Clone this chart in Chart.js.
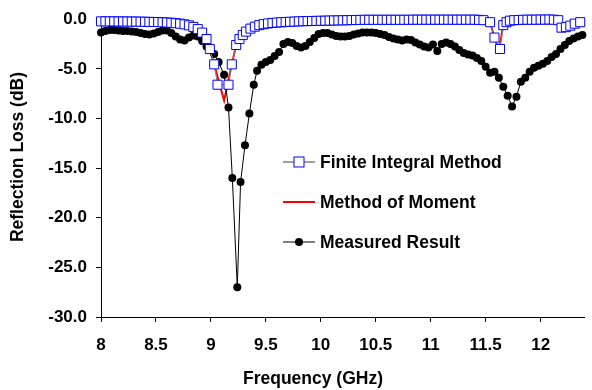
<!DOCTYPE html>
<html>
<head>
<meta charset="utf-8">
<script src="https://cdn.jsdelivr.net/npm/chart.js@4.4.1/dist/chart.umd.min.js"></script>
<style>
  html, body { margin: 0; padding: 0; background: #fff; }
  #wrap { width: 592px; height: 390px; position: relative; }
</style>
</head>
<body>
<div id="wrap"><canvas id="c" width="592" height="390"></canvas></div>
<script>
// ---- data ----
const xTicks = [8, 8.5, 9, 9.5, 10, 10.5, 11, 11.5, 12];
const yTicks = [0, -5, -10, -15, -20, -25, -30];

const fimFreq = [8.00, 8.04, 8.08, 8.12, 8.16, 8.20, 8.24, 8.28, 8.32, 8.36, 8.40, 8.44, 8.48, 8.52, 8.56, 8.60, 8.64, 8.68, 8.72, 8.76,
  8.80, 8.84, 8.88, 8.92, 8.96, 8.99, 9.03, 9.06, 9.16, 9.19, 9.23, 9.26, 9.29, 9.32, 9.36, 9.40, 9.44, 9.48, 9.52, 9.56,
  9.60, 9.64, 9.68, 9.72, 9.76, 9.80, 9.84, 9.88, 9.92, 9.96, 10.00, 10.04, 10.08, 10.12, 10.16, 10.20, 10.24, 10.28, 10.32, 10.36,
  10.40, 10.44, 10.48, 10.52, 10.56, 10.60, 10.64, 10.68, 10.72, 10.76, 10.80, 10.84, 10.88, 10.92, 10.96, 11.00, 11.04, 11.08, 11.12, 11.16,
  11.20, 11.24, 11.28, 11.32, 11.36, 11.40, 11.44, 11.48, 11.54, 11.58, 11.63, 11.66, 11.69, 11.72, 11.76, 11.80, 11.84, 11.88, 11.92, 11.96,
  12.00, 12.04, 12.08, 12.12, 12.16, 12.19, 12.23, 12.27, 12.31, 12.36];
const fimLoss = [-0.22, -0.22, -0.22, -0.22, -0.23, -0.23, -0.23, -0.24, -0.24, -0.25, -0.26, -0.27, -0.28, -0.29, -0.31, -0.33, -0.36, -0.40, -0.45, -0.52,
  -0.62, -0.78, -1.00, -1.35, -2.00, -3.00, -4.55, -6.60, -6.60, -4.55, -2.60, -2.00, -1.60, -1.25, -0.95, -0.75, -0.60, -0.50, -0.43, -0.38,
  -0.34, -0.31, -0.28, -0.26, -0.24, -0.22, -0.20, -0.19, -0.18, -0.17, -0.16, -0.15, -0.14, -0.13, -0.12, -0.11, -0.10, -0.09, -0.08, -0.07,
  -0.06, -0.06, -0.06, -0.06, -0.06, -0.06, -0.06, -0.06, -0.06, -0.06, -0.06, -0.05, -0.05, -0.05, -0.05, -0.05, -0.05, -0.05, -0.05, -0.05,
  -0.05, -0.05, -0.05, -0.05, -0.05, -0.05, -0.07, -0.10, -0.30, -1.85, -3.00, -0.60, -0.30, -0.15, -0.10, -0.08, -0.06, -0.05, -0.05, -0.05,
  -0.04, -0.04, -0.03, -0.05, -0.10, -0.85, -0.80, -0.65, -0.45, -0.30];

const momFreq = [8.00, 8.40, 8.60, 8.76, 8.84, 8.92, 8.96, 8.99, 9.03, 9.12, 9.19, 9.23, 9.29, 9.36, 9.48, 9.64, 9.80, 10.00, 10.40, 11.40,
  11.50, 11.54, 11.58, 11.62, 11.66, 11.72, 12.12, 12.16, 12.19, 12.27, 12.36];
const momLoss = [-0.22, -0.26, -0.33, -0.52, -0.78, -1.35, -2.00, -3.00, -4.55, -8.20, -4.55, -2.60, -1.60, -0.95, -0.50, -0.31, -0.22, -0.16, -0.06, -0.05,
  -0.12, -0.30, -1.85, -3.20, -0.60, -0.15, -0.05, -0.10, -0.85, -0.65, -0.30];

const measFreq = [8.00, 8.04, 8.08, 8.12, 8.16, 8.20, 8.24, 8.28, 8.32, 8.36, 8.40, 8.44, 8.48, 8.52, 8.56, 8.60, 8.64, 8.68, 8.72, 8.76,
  8.80, 8.84, 8.88, 8.92, 8.96, 8.99, 9.03, 9.07, 9.12, 9.16, 9.195, 9.24, 9.27, 9.31, 9.35, 9.39, 9.42, 9.46, 9.50, 9.54,
  9.58, 9.62, 9.66, 9.70, 9.74, 9.78, 9.82, 9.86, 9.90, 9.94, 9.98, 10.02, 10.06, 10.10, 10.14, 10.18, 10.22, 10.26, 10.30, 10.34,
  10.38, 10.42, 10.46, 10.50, 10.54, 10.58, 10.62, 10.66, 10.70, 10.74, 10.78, 10.82, 10.86, 10.90, 10.94, 10.98, 11.02, 11.06, 11.10, 11.14,
  11.18, 11.22, 11.26, 11.30, 11.34, 11.38, 11.42, 11.46, 11.50, 11.54, 11.58, 11.62, 11.66, 11.70, 11.74, 11.78, 11.82, 11.86, 11.90, 11.94,
  11.98, 12.02, 12.06, 12.10, 12.14, 12.18, 12.22, 12.26, 12.30, 12.34, 12.38];
const measLoss = [-1.35, -1.20, -1.10, -1.10, -1.15, -1.20, -1.20, -1.25, -1.30, -1.40, -1.50, -1.55, -1.45, -1.30, -1.15, -1.15, -1.40, -1.75, -2.05, -2.15,
  -1.85, -1.65, -1.75, -2.20, -2.75, -2.90, -3.50, -4.30, -5.60, -8.90, -16.00, -27.00, -16.40, -12.70, -9.50, -6.60, -5.20, -4.60, -4.30, -4.10,
  -3.70, -3.30, -2.50, -2.30, -2.40, -2.70, -2.85, -2.70, -2.30, -1.90, -1.50, -1.40, -1.40, -1.55, -1.70, -1.75, -1.75, -1.70, -1.55, -1.45,
  -1.35, -1.35, -1.35, -1.40, -1.50, -1.60, -1.80, -1.95, -2.05, -2.15, -2.05, -2.10, -2.35, -2.55, -2.75, -2.85, -2.55, -3.20, -2.50, -2.35,
  -2.50, -2.75, -3.10, -3.40, -3.55, -3.65, -3.90, -4.20, -4.80, -5.40, -5.30, -5.90, -6.80, -7.70, -8.80, -7.80, -6.30, -5.90, -5.30, -4.90,
  -4.70, -4.50, -4.20, -3.80, -3.50, -3.00, -2.60, -2.20, -1.95, -1.75, -1.60];

const seriesNames = ['Finite Integral Method', 'Method of Moment', 'Measured Result'];
const xTitle = 'Frequency (GHz)';
const yTitle = 'Reflection Loss (dB)';

// ---- build ----
const pairs = (xs, ys) => xs.map((x, i) => ({ x: x, y: ys[i] }));
const FONT = '"Liberation Sans", Arial, sans-serif';

const overlay = {
  id: 'overlay',
  afterDraw(chart) {
    const ctx = chart.ctx;
    ctx.save();
    ctx.fillStyle = '#000';
    ctx.font = 'bold 17.5px ' + FONT;
    ctx.textAlign = 'center';
    ctx.textBaseline = 'middle';
    ctx.fillText(xTitle, 313, 379);
    ctx.save();
    ctx.translate(18, 157);
    ctx.rotate(-Math.PI / 2);
    ctx.fillText(yTitle, 0, 0);
    ctx.restore();

    // legend
    const x0 = 283, x1 = 315, xm = 299, tx = 320;
    const ys = [162, 202, 242];
    ctx.textAlign = 'left';
    ctx.font = 'bold 17.5px ' + FONT;
    // FIM
    ctx.strokeStyle = '#808080'; ctx.lineWidth = 1.5;
    ctx.beginPath(); ctx.moveTo(x0, ys[0]); ctx.lineTo(x1, ys[0]); ctx.stroke();
    ctx.fillStyle = '#fff'; ctx.strokeStyle = '#0000ff'; ctx.lineWidth = 1;
    ctx.fillRect(xm - 5, ys[0] - 5, 10, 10);
    ctx.strokeRect(xm - 5, ys[0] - 5, 10, 10);
    // MoM
    ctx.strokeStyle = '#ff0000'; ctx.lineWidth = 2;
    ctx.beginPath(); ctx.moveTo(x0, ys[1]); ctx.lineTo(x1, ys[1]); ctx.stroke();
    // Measured
    ctx.strokeStyle = '#000'; ctx.lineWidth = 1;
    ctx.beginPath(); ctx.moveTo(x0, ys[2]); ctx.lineTo(x1, ys[2]); ctx.stroke();
    ctx.fillStyle = '#000';
    ctx.beginPath(); ctx.arc(xm, ys[2], 4, 0, Math.PI * 2); ctx.fill();

    ctx.fillStyle = '#000';
    seriesNames.forEach((n, i) => ctx.fillText(n, tx, ys[i] + 1));
    ctx.restore();
  }
};

new Chart(document.getElementById('c'), {
  type: 'line',
  data: {
    datasets: [
      {
        label: seriesNames[0],
        data: pairs(fimFreq, fimLoss),
        borderColor: '#808080',
        borderWidth: 1,
        pointStyle: 'rect',
        pointRadius: 6.4,
        pointBorderColor: '#0000ff',
        pointBackgroundColor: '#ffffff',
        pointBorderWidth: 1,
        clip: false,
        tension: 0
      },
      {
        label: seriesNames[2],
        data: pairs(measFreq, measLoss),
        borderColor: '#000000',
        borderWidth: 1,
        pointStyle: 'circle',
        pointRadius: 4,
        pointBorderWidth: 0,
        pointBackgroundColor: '#000000',
        clip: false,
        tension: 0
      },
      {
        label: seriesNames[1],
        data: pairs(momFreq, momLoss),
        borderColor: '#ff0000',
        borderWidth: 2,
        pointRadius: 0,
        clip: false,
        tension: 0
      }
    ]
  },
  options: {
    responsive: false,
    animation: false,
    events: [],
    layout: { padding: { left: 0, right: 4, top: 17, bottom: 0 } },
    plugins: { legend: { display: false }, tooltip: { enabled: false } },
    scales: {
      x: {
        type: 'linear',
        min: 8, max: 12.4,
        afterBuildTicks: s => { s.ticks = xTicks.map(v => ({ value: v })); },
        afterFit: s => { s.height = 73; },
        grid: { display: true, drawOnChartArea: false, drawTicks: true, tickLength: 5, color: '#000' },
        border: { display: true, color: '#000', width: 1 },
        ticks: { color: '#000', font: { family: FONT, size: 17, weight: 'bold' }, padding: 13, maxRotation: 0,
                 callback: v => String(v) }
      },
      y: {
        type: 'linear',
        min: -30, max: 0,
        afterBuildTicks: s => { s.ticks = yTicks.map(v => ({ value: v })); },
        afterFit: s => { s.width = 101; },
        grid: { display: true, drawOnChartArea: false, drawTicks: true, tickLength: 5, color: '#000' },
        border: { display: true, color: '#000', width: 1 },
        ticks: { color: '#000', font: { family: FONT, size: 17, weight: 'bold' }, padding: 9,
                 callback: v => Number(v).toFixed(1) }
      }
    }
  },
  plugins: [overlay]
});
</script>
</body>
</html>
